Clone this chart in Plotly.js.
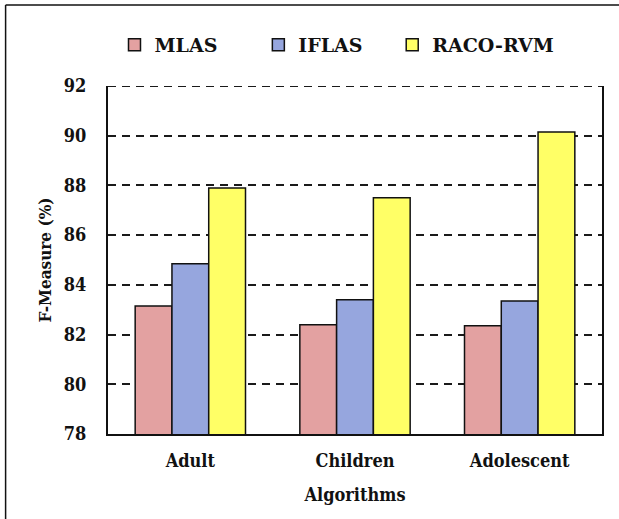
<!DOCTYPE html>
<html>
<head>
<meta charset="utf-8">
<script src="https://cdn.plot.ly/plotly-3.0.1.min.js"></script>
<style>html,body{margin:0;padding:0;background:#fff;}#chart{width:619px;height:519px;}</style>
</head>
<body>
<div id="chart"></div>
<script>
var categories = ["Adult", "Children", "Adolescent"];
var seriesNames = ["MLAS", "IFLAS", "RACO-RVM"];
var mlas = [83.15, 82.4, 82.35];
var iflas = [84.85, 83.4, 83.35];
var racoRvm = [87.9, 87.5, 90.15];
var yTicks = [78, 80, 82, 84, 86, 88, 90, 92];
var colors = ["#E3A1A1", "#96A6DE", "#FFFF66"];

var legendIds = ["legend", "legend2", "legend3"];
var seriesValues = [mlas, iflas, racoRvm];
var traces = seriesValues.map(function (vals, i) {
  return {
    type: "bar",
    name: seriesNames[i],
    legend: legendIds[i],
    x: categories,
    y: vals,
    marker: { color: colors[i], line: { color: "#111", width: 1.5 } }
  };
});

var L = 107.5, R = 602, T = 86, B = 434, W = 619, H = 519;
function px2x(p) { return (p - L) / (R - L); }
function px2y(p) { return (B - p) / (B - T); }

var SERIF = "DejaVu Serif";
var COND = "DejaVu Serif Condensed, DejaVu Serif";
function f(fam, size) { return { family: fam, size: size, color: "#111", weight: "bold" }; }

function leg(xpx) {
  return {
    orientation: "h",
    x: px2x(xpx), y: px2y(45), xanchor: "left", yanchor: "middle",
    font: f(SERIF, 19),
    itemwidth: 30,
    bgcolor: "rgba(0,0,0,0)"
  };
}

var layout = {
  width: W, height: H,
  margin: { l: L, r: W - R, t: T, b: H - B, pad: 0 },
  paper_bgcolor: "#fff", plot_bgcolor: "#fff",
  font: { family: SERIF, size: 17, color: "#111" },
  barmode: "group",
  bargap: 0.33,
  bargroupgap: 0,
  showlegend: true,
  legend: leg(114),
  legend2: leg(258),
  legend3: leg(392),
  xaxis: {
    showline: true, linecolor: "#111", linewidth: 2, mirror: false,
    ticks: "", showgrid: false,
    tickfont: f(COND, 18),
    ticklabelstandoff: 9,
    title: { text: "Algorithms", font: f(COND, 18), standoff: 19 }
  },
  yaxis: {
    range: [78, 92], tickmode: "array", tickvals: yTicks,
    showline: true, linecolor: "#111", linewidth: 2, mirror: true,
    ticks: "", showgrid: true, gridcolor: "#1a1a1a", gridwidth: 2, griddash: "8px,6px",
    zeroline: false,
    tickfont: f(COND, 18),
    ticklabelstandoff: 16,
    title: { text: "F-Measure (%)", font: f(COND, 17), standoff: 8 }
  },
  shapes: [
    { type: "line", xref: "paper", yref: "y", x0: 0, x1: 1, y0: 92, y1: 92, line: { color: "#1a1a1a", width: 2, dash: "8px,6px" } },
    { type: "line", xref: "paper", yref: "paper", x0: px2x(5), x1: px2x(5), y0: px2y(5), y1: px2y(530), line: { color: "#111", width: 1.5 } },
    { type: "line", xref: "paper", yref: "paper", x0: px2x(5), x1: px2x(640), y0: px2y(5), y1: px2y(5), line: { color: "#111", width: 1.5 } }
  ]
};

Plotly.newPlot("chart", traces, layout, { displayModeBar: false, staticPlot: true });
</script>
</body>
</html>
